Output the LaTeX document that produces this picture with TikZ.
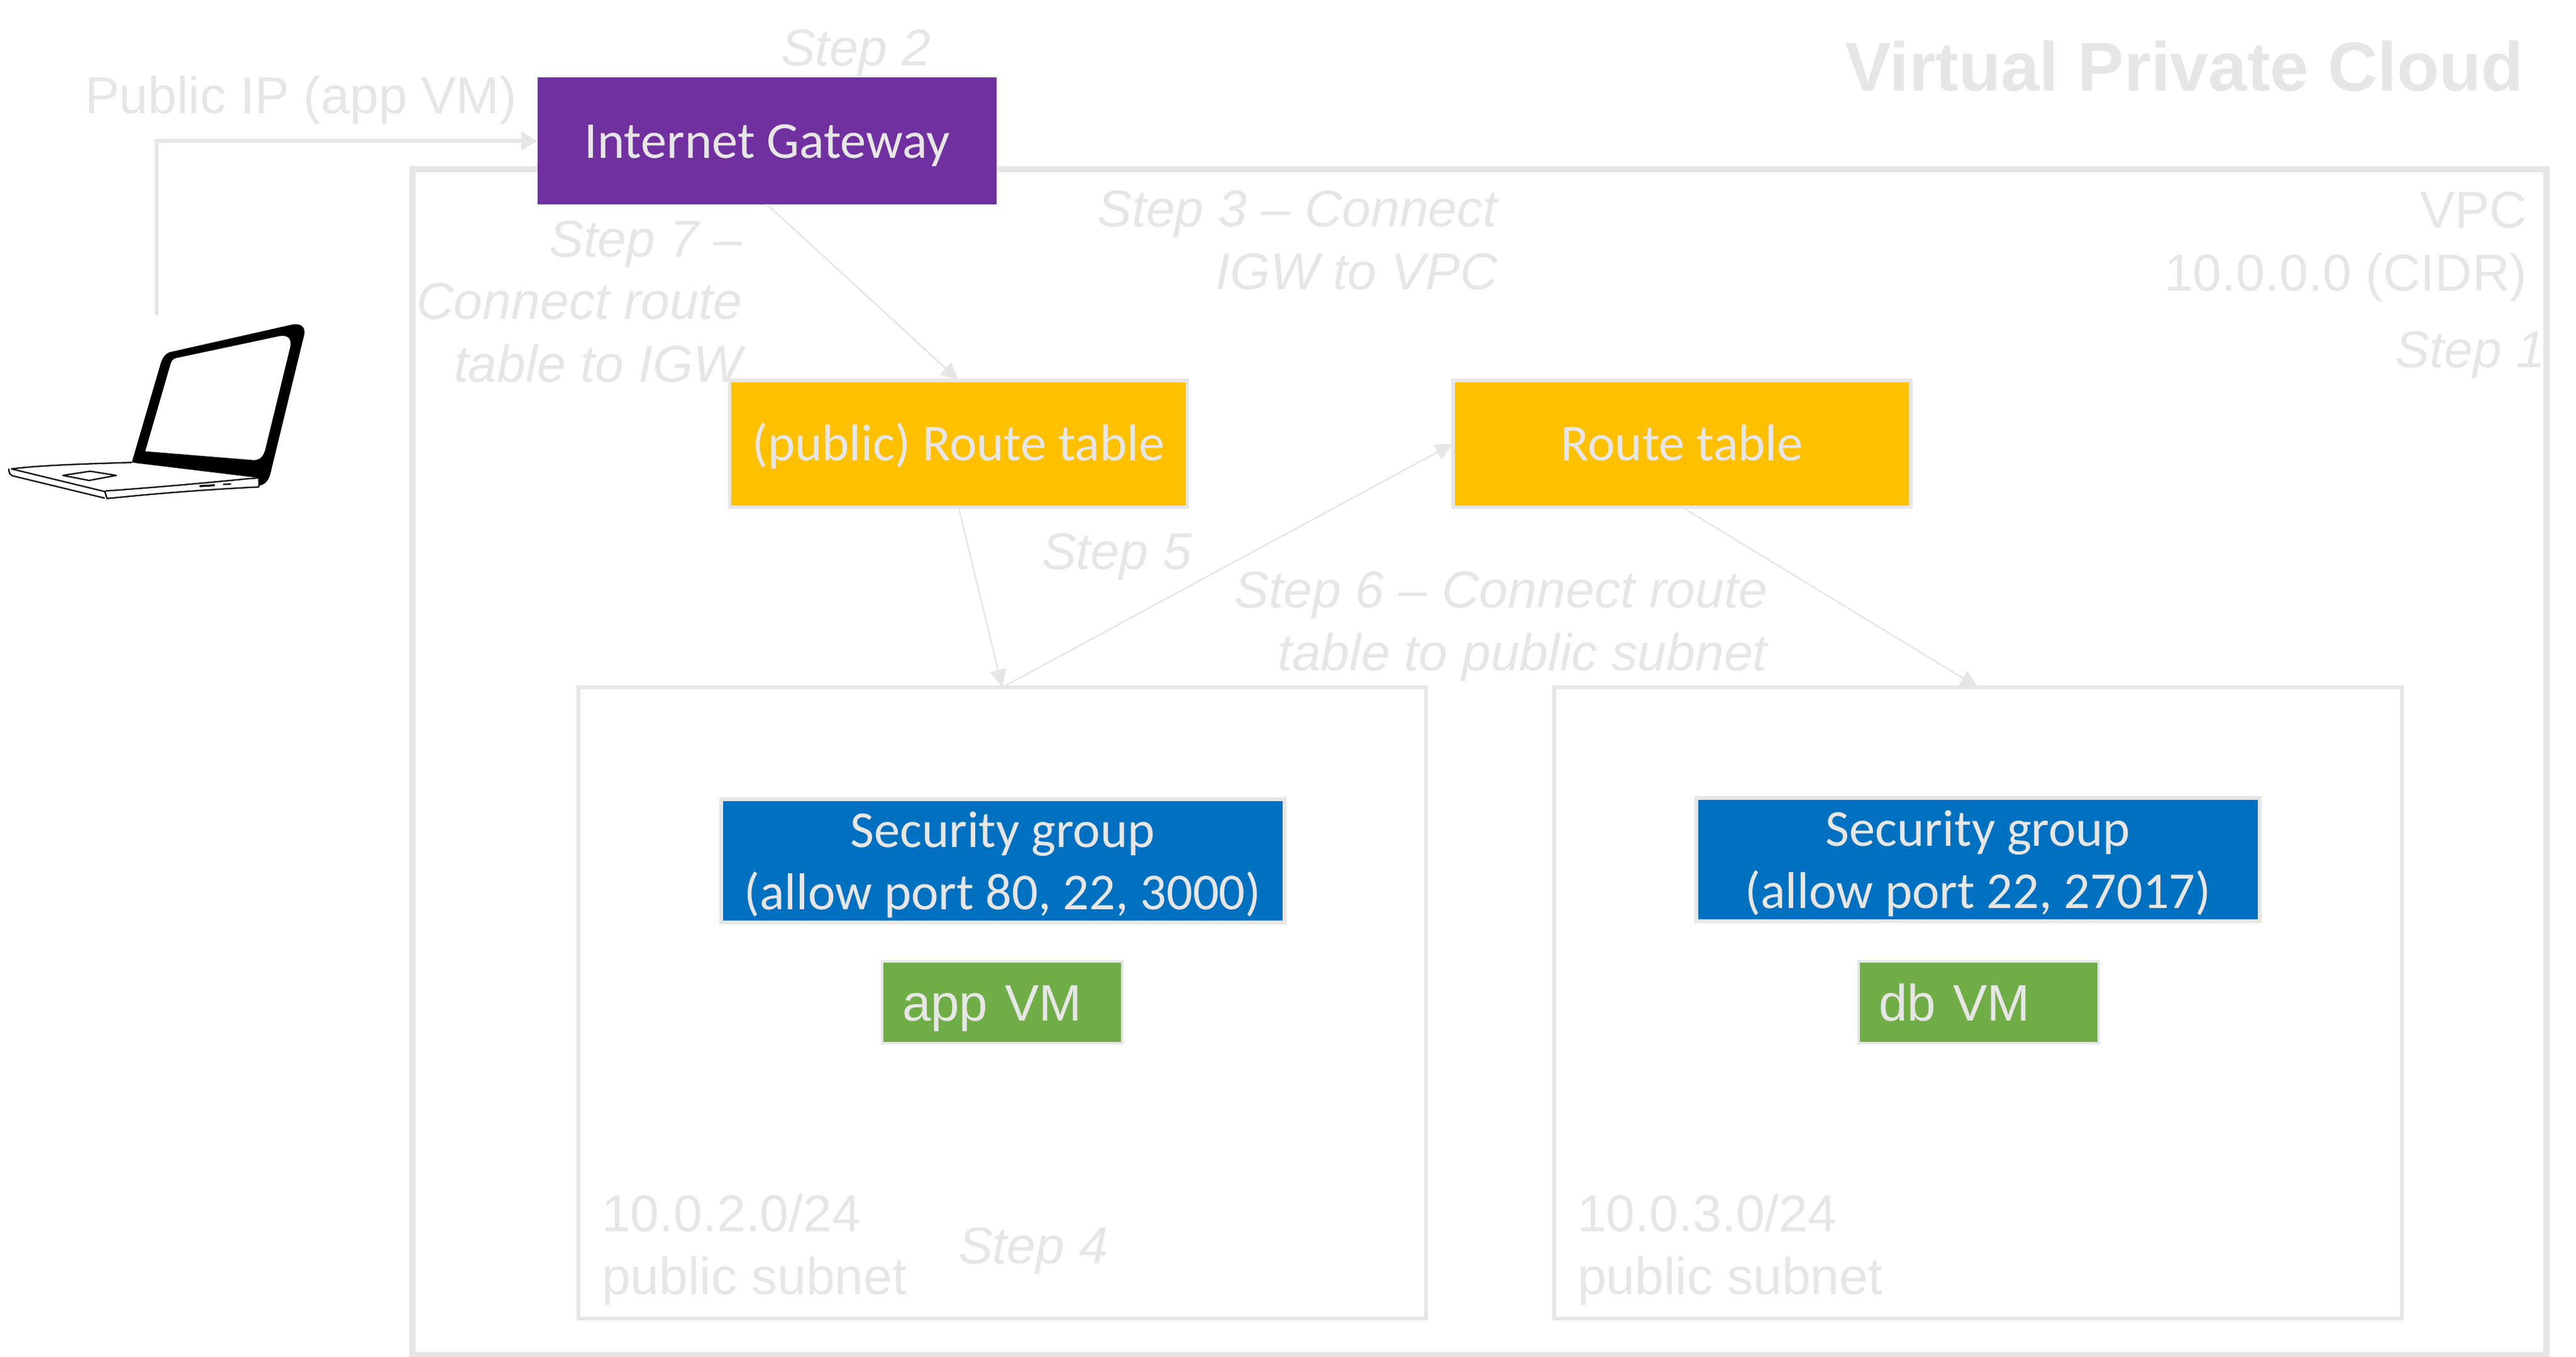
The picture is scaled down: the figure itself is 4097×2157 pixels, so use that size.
\documentclass[tikz,border=0pt]{standalone}
\usepackage{fontspec}
\setmainfont{Liberation Sans}
\newfontfamily\calfont{Carlito}
\usetikzlibrary{arrows.meta}
\definecolor{lg}{HTML}{E7E6E6}
\definecolor{igwc}{HTML}{7030A0}
\definecolor{rtc}{HTML}{FFC000}
\definecolor{sgc}{HTML}{0070C0}
\definecolor{vmc}{HTML}{70AD47}
\tikzset{
  x=0.25pt,y=-0.25pt,
  txt/.style={text=lg,inner sep=0pt,outer sep=0pt,text height=15pt,text depth=4.4pt,font=\fontsize{20.6}{24.85}\selectfont},
  lab/.style={txt,anchor=north west,align=left},
  labr/.style={txt,anchor=north east,align=right},
  stp/.style={font=\fontsize{20.6}{24.85}\selectfont\itshape},
  cal/.style={font=\fontsize{20.6}{24.6}\selectfont\calfont,align=center,text=lg,inner sep=0pt,outer sep=0pt},
  igwbox/.style={cal,fill=igwc,text height=18pt,text depth=4.4pt,minimum width=182.5pt,minimum height=50.5pt},
  rtbox/.style={cal,fill=rtc,draw=lg,line width=1.4pt,text height=18pt,text depth=4.4pt,minimum width=182pt,minimum height=50.4pt},
  sgbox/.style={cal,fill=sgc,draw=lg,line width=1.5pt,text depth=0.2pt,minimum width=224pt,minimum height=49pt},
  vmbox/.style={txt,font=\fontsize{20.4}{24.85}\selectfont,fill=vmc,draw=lg,line width=1pt,text height=18.9pt,text width=79.4pt,inner xsep=8pt,align=left,minimum height=32.5pt},
  subnetbox/.style={draw=lg,line width=1.6pt,minimum width=337pt,minimum height=251pt,inner sep=0pt,outer sep=0pt},
  vpcbox/.style={draw=lg,line width=2.3pt,minimum width=848.5pt,minimum height=471.5pt,inner sep=0pt,outer sep=0pt},
  conn/.style={draw=lg,line width=0.6pt,-{Triangle[length=7pt,width=6.5pt]}},
  connb/.style={draw=lg,line width=1.5pt,-{Triangle[length=6.5pt,width=7pt]}},
}
\begin{document}
\begin{tikzpicture}
\useasboundingbox (0,0) rectangle (4097,2157);
\node[vpcbox] (vpc) at (2353,1212) {};
\node[subnetbox] (sub1) at (1594,1595) {};
\node[subnetbox] (sub2) at (3146,1595) {};
\node[igwbox] (igw) at (1220,224) {Internet Gateway};
\node[rtbox] (rt1) at (1524.5,705.5) {(public) Route table};
\node[rtbox] (rt2) at (2675,705.5) {Route table};
\node[sgbox] (sg1) at (1594.5,1369) {Security group\\(allow port 80, 22, 3000)};
\node[sgbox] (sg2) at (3146,1367) {Security group\\(allow port 22, 27017)};
\node[vmbox] (vm1) at (1594,1594) {app VM};
\node[vmbox] (vm2) at (3147,1594) {db VM};
% labels (y = last baseline - 60)
\node[lab] (pubip) at (135,120) {Public IP (app VM)};
\node[lab,stp] (s2) at (1242,44) {Step 2};
\node[labr,font=\fontsize{27.5}{33}\selectfont\bfseries] (title) at (4014,84) {Virtual Private Cloud};
\node[labr,stp] (s3) at (2382,400) {Step 3 – Connect\\IGW to VPC};
\node[labr] (vpct) at (4019,402) {VPC\\10.0.0.0 (CIDR)};
\node[labr,stp] (s1) at (4048,524) {Step 1};
\node[labr,stp] (s7) at (1180,547) {Step 7 –\\Connect route\\table to IGW};
\node[lab,stp] (s5) at (1657,845) {Step 5};
\node[labr,stp] (s6) at (2811,1006) {Step 6 – Connect route\\table to public subnet};
\node[lab] (n1) at (957,1998) {10.0.2.0/24\\public subnet};
\node[lab] (n2) at (2509,1998) {10.0.3.0/24\\public subnet};
\node[lab,stp] (s4) at (1524,1949) {Step 4};
% connectors
\coordinate (lap) at (249,501);
\draw[connb] (lap) |- (igw.west);
\draw[conn] (igw.south) -- (rt1.north);
\draw[conn] (rt1.south) -- (sub1.north);
\draw[conn] (sub1.north) -- (rt2.west);
\draw[conn] (rt2.south) -- (sub2.north);
% laptop
\begin{scope}[shift={(0,480)},x=0.08333pt,y=-0.08333pt]
\fill[black,even odd rule]
  (630,762) -- (762,310) .. controls (772,270) and (785,250) .. (810,240)
  -- (1395,108) .. controls (1440,100) and (1458,125) .. (1452,155)
  -- (1295,800) .. controls (1285,850) and (1270,870) .. (1235,878)
  -- (1235,840) -- (1170,832) -- (640,768) -- cycle
  (693,713) -- (815,292) .. controls (822,272) and (835,268) .. (855,265)
  -- (1335,163) .. controls (1375,158) and (1392,175) .. (1385,215)
  -- (1268,695) .. controls (1258,740) and (1240,755) .. (1210,755) -- cycle;
\begin{scope}[line width=0.55pt,line cap=round,line join=round]
\draw (55,797) .. controls (200,778) and (450,772) .. (630,766);
\draw (55,797) -- (500,905) -- (510,936);
\draw (42,798) .. controls (42,815) and (48,825) .. (60,830) -- (498,936);
\draw (505,902) .. controls (750,885) and (1000,862) .. (1170,845) -- (1235,840) -- (1235,880);
\draw (510,938) .. controls (550,936) and (800,905) .. (1235,883);
\draw (300,828) -- (430,808) -- (555,828) -- (425,852) -- cycle;
\draw[line width=0.8pt] (955,879) -- (1022,875);
\draw[line width=0.6pt] (1067,871) -- (1100,869);
\end{scope}
\end{scope}
\end{tikzpicture}
\end{document}
